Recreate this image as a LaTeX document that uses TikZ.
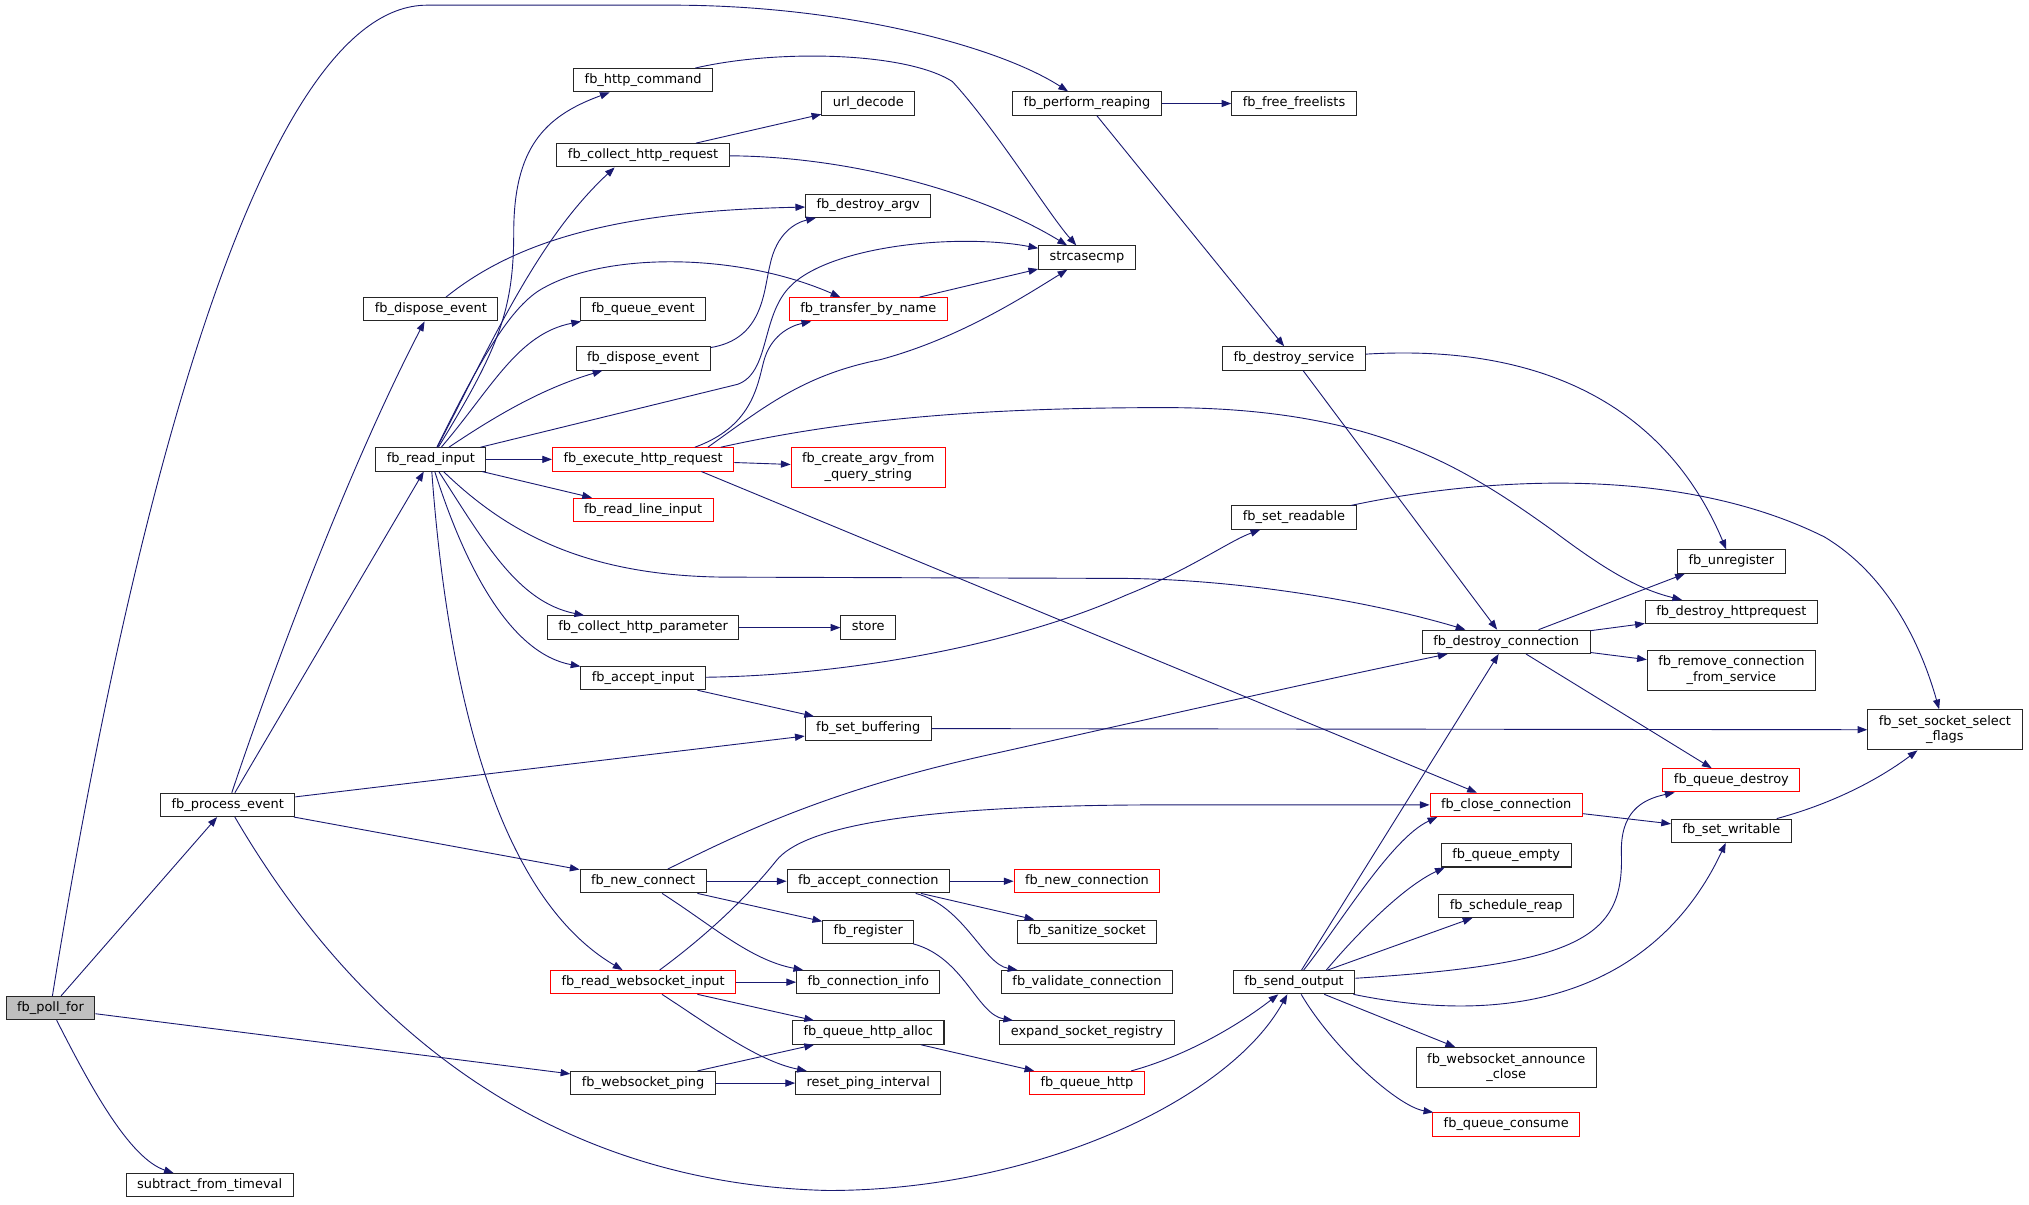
\documentclass[tikz,border=0pt]{standalone}
\usepackage{fontspec}
\setmainfont{DejaVu Sans}
\usepackage{tikz}
\usetikzlibrary{positioning, arrows.meta}

\definecolor{llamada}{HTML}{191970}
\definecolor{raizgris}{HTML}{BFBFBF}

\tikzset{
  fnode/.style={draw=black!85, line width=0.8pt, fill=white, text=black,
    font=\fontsize{10}{12}\selectfont, inner xsep=8.5pt, inner ysep=0pt,
    minimum height=18pt, text height=7.5pt, text depth=2.5pt},
  fnred/.style={fnode, draw=red},
  fnroot/.style={fnode, fill=raizgris},
  twolines/.style={align=center, text height={}, text depth={}, minimum height=31pt},
  call/.style={->, color=llamada, line width=0.7pt}
}

\begin{document}
\begin{tikzpicture}[>={Triangle[length=7.5pt,width=5.5pt]}, x=1pt, y=-1pt, on grid]
            \useasboundingbox (0,0) rectangle (1568,931);

            %%% NODOS (funciones) %%%
            % Raiz y primer nivel
            \node[fnroot] (poll)   at (39,779)  {fb\_poll\_for};
            \node[fnode]  (procev) at (176,622) {fb\_process\_event};
            \node[fnode]  (subtv)  at (162,916) {subtract\_from\_timeval};
            \node[fnode]  (readin) at (333,355) {fb\_read\_input};
            \node[fnode]  (dispev) [above=116pt of readin] {fb\_dispose\_event};

            % Columna de fb_read_input
            \node[fnred] (execreq)   [right=164pt of readin]  {fb\_execute\_http\_request};
            \node[fnode] (dispev2)   [above=78pt of execreq]  {fb\_dispose\_event};
            \node[fnode] (queueev)   [above=38pt of dispev2]  {fb\_queue\_event};
            \node[fnode] (collreq)   [above=119pt of queueev] {fb\_collect\_http\_request};
            \node[fnode] (httpcmd)   [above=58pt of collreq]  {fb\_http\_command};
            \node[fnred] (readline)  [below=39pt of execreq]  {fb\_read\_line\_input};
            \node[fnode] (collparam) [below=91pt of readline] {fb\_collect\_http\_parameter};
            \node[fnode] (acceptin)  [below=39pt of collparam] {fb\_accept\_input};
            \node[fnode] (newconn)   [below=157pt of acceptin] {fb\_new\_connect};
            \node[fnred] (wsread)    [below=78pt of newconn]  {fb\_read\_websocket\_input};
            \node[fnode] (wsping)    [below=78pt of wsread]   {fb\_websocket\_ping};

            % Segunda columna
            \node[fnred] (transname)  [right=174pt of queueev]   {fb\_transfer\_by\_name};
            \node[fnode] (destargv)   [above=80pt of transname]  {fb\_destroy\_argv};
            \node[fnode] (urldec)     [above=79pt of destargv]   {url\_decode};
            \node[fnred,twolines] (createargv) [below=122pt of transname] {fb\_create\_argv\_from\\\_query\_string};
            \node[fnode] (store)      [right=174pt of collparam] {store};
            \node[fnode] (setbuf)     [below=78pt of store]      {fb\_set\_buffering};
            \node[fnode] (acceptconn) [right=174pt of newconn]   {fb\_accept\_connection};
            \node[fnode] (register)   [below=39pt of acceptconn] {fb\_register};
            \node[fnode] (conninfo)   [below=39pt of register]   {fb\_connection\_info};
            \node[fnode] (qalloc)     [below=39pt of conninfo]   {fb\_queue\_http\_alloc};
            \node[fnode] (resetping)  [below=39pt of qalloc]     {reset\_ping\_interval};

            % Tercera columna
            \node[fnode] (reaping)       [right=169pt of urldec]        {fb\_perform\_reaping};
            \node[fnode] (strcmp)        [below=119pt of reaping]       {strcasecmp};
            \node[fnred] (newconnection) [right=169pt of acceptconn]    {fb\_new\_connection};
            \node[fnode] (sanitize)      [below=39pt of newconnection]  {fb\_sanitize\_socket};
            \node[fnode] (validate)      [below=39pt of sanitize]       {fb\_validate\_connection};
            \node[fnode] (expandreg)     [below=39pt of validate]       {expand\_socket\_registry};
            \node[fnred] (queuehttp)     [below=39pt of expandreg]      {fb\_queue\_http};

            % Cuarta columna
            \node[fnode] (freelists)   [right=160pt of reaping]     {fb\_free\_freelists};
            \node[fnode] (destservice) [below=197pt of freelists]   {fb\_destroy\_service};
            \node[fnode] (setread)     [below=123pt of destservice] {fb\_set\_readable};
            \node[fnode] (sendout)     [right=160pt of validate]    {fb\_send\_output};

            % Quinta columna
            \node[fnode] (schedreap) at (1164,700)                 {fb\_schedule\_reap};
            \node[fnode] (qempty)    [above=39pt of schedreap]     {fb\_queue\_empty};
            \node[fnred] (closeconn) [above=39pt of qempty]        {fb\_close\_connection};
            \node[fnode] (destconn)  [above=126pt of closeconn]    {fb\_destroy\_connection};
            \node[fnode,twolines] (announce) [below=125pt of schedreap] {fb\_websocket\_announce\\\_close};
            \node[fnred] (qconsume)  [below=44pt of announce]      {fb\_queue\_consume};

            % Sexta columna
            \node[fnode] (unreg)       at (1338,434)                {fb\_unregister};
            \node[fnode] (desthttpreq) [below=39pt of unreg]        {fb\_destroy\_httprequest};
            \node[fnode,twolines] (removeconn) [below=45pt of desthttpreq] {fb\_remove\_connection\\\_from\_service};
            \node[fnred] (qdestroy)    [below=85pt of removeconn]   {fb\_queue\_destroy};
            \node[fnode] (setwrite)    [below=39pt of qdestroy]     {fb\_set\_writable};
            \node[fnode,twolines] (selflags) at (1503,564) {fb\_set\_socket\_select\\\_flags};

            %%% LLAMADAS %%%
            % Desde fb_poll_for
            \draw[call] (poll) .. controls (100,400) and (200,4) .. (330,4) -- (520,4)
                        .. controls (650,4) and (770,35) .. (reaping);
            \path[call] (poll) edge (procev)
                               edge (wsping);
            \draw[call] (poll) .. controls (70,840) and (100,895) .. (subtv);

            % Desde fb_process_event
            \draw[call] (procev) .. controls (210,520) and (270,360) .. (dispev);
            \path[call] (procev) edge (readin)
                                 edge (setbuf)
                                 edge (newconn);
            \draw[call] (procev) .. controls (280,800) and (430,915) .. (640,920)
                        .. controls (800,920) and (950,850) .. (sendout);

            % Desde fb_read_input
            \draw[call] (readin) .. controls (385,270) and (397,240) .. (397,180)
                        .. controls (397,115) and (420,90) .. (httpcmd);
            \draw[call] (readin) .. controls (380,265) and (415,185) .. ([xshift=-22pt]collreq.south);
            \draw[call] (readin) .. controls (370,280) and (395,235) .. (421,222)
                        .. controls (470,195) and (570,195) .. (transname);
            \draw[call] (readin) .. controls (380,300) and (400,258) .. (queueev);
            \draw[call] (readin) .. controls (385,320) and (420,300) .. (dispev2);
            \draw[call] (readin) -- (570,297) .. controls (595,288) and (588,245) .. (610,222)
                        .. controls (640,190) and (740,180) .. (strcmp);
            \path[call] (readin) edge (execreq)
                                 edge (readline);
            \draw[call] (readin) .. controls (390,410) and (450,445) .. (560,446) -- (870,447)
                        .. controls (960,448) and (1060,465) .. (destconn);
            \draw[call] (readin) .. controls (375,420) and (400,465) .. (collparam);
            \draw[call] (readin) .. controls (360,440) and (395,505) .. (acceptin);
            \draw[call] (readin) .. controls (345,520) and (380,690) .. (wsread);

            % Segundo nivel
            \draw[call] (dispev) .. controls (400,185) and (480,163) .. (destargv);
            \path[call] (collreq) edge (urldec);
            \draw[call] (collreq) .. controls (660,121) and (760,150) .. (strcmp);
            \draw[call] (httpcmd) .. controls (600,38) and (700,40) .. (736,63)
                        .. controls (770,100) and (810,165) .. (strcmp);
            \draw[call] (dispev2) .. controls (590,262) and (590,225) .. (595,205)
                        .. controls (600,180) and (615,172) .. (destargv);
            \draw[call] ([xshift=40pt]execreq.north) .. controls (580,330) and (585,300) .. (590,280)
                        .. controls (595,260) and (610,252) .. (transname);
            \draw[call] ([xshift=50pt]execreq.north) .. controls (590,315) and (620,290) .. (680,278)
                        .. controls (740,262) and (790,230) .. (strcmp);
            \path[call] (execreq) edge (createargv);
            \draw[call] ([xshift=60pt]execreq.north) .. controls (650,325) and (750,315) .. (900,315)
                        .. controls (1060,315) and (1130,360) .. (1200,410)
                        .. controls (1240,440) and (1265,455) .. (desthttpreq);
            \draw[call] ([xshift=45pt]execreq.south) -- (closeconn);
            \path[call] (collparam) edge (store);
            \draw[call] (acceptin) .. controls (650,522) and (780,500) .. (870,460)
                        .. controls (920,440) and (950,418) .. (setread);
            \path[call] (acceptin) edge (setbuf);
            \draw[call] (newconn) .. controls (570,645) and (640,610) .. (770,582)
                        .. controls (900,553) and (1000,530) .. (destconn);
            \path[call] (newconn) edge (acceptconn)
                                  edge (register);
            \draw[call] (newconn) .. controls (550,715) and (580,742) .. (conninfo);
            \draw[call] (wsread) .. controls (550,720) and (580,690) .. (600,665)
                        .. controls (620,640) and (700,622) .. (900,622) -- (closeconn);
            \path[call] (wsread) edge (conninfo)
                                 edge (qalloc);
            \draw[call] (wsread) .. controls (545,790) and (585,820) .. (resetping);
            \path[call] (wsping) edge (qalloc)
                                 edge (resetping);

            % Tercer nivel
            \path[call] (acceptconn) edge (newconnection)
                                     edge (sanitize);
            \draw[call] (acceptconn) .. controls (745,700) and (760,745) .. (validate);
            \draw[call] (register) .. controls (745,740) and (755,784) .. (expandreg);
            \path[call] (qalloc) edge (queuehttp);
            \draw[call] (queuehttp) .. controls (920,815) and (960,790) .. (sendout);
            \path[call] (reaping) edge (freelists)
                                  edge (destservice);
            \path[call] (transname) edge (strcmp);

            % Cuarto nivel
            \draw[call] (destservice) .. controls (1200,265) and (1290,320) .. (unreg);
            \path[call] (destservice) edge (destconn);
            \draw[call] (setread) .. controls (1150,368) and (1300,360) .. (1410,415)
                        .. controls (1460,445) and (1485,500) .. (selflags);
            \path[call] (setbuf) edge (selflags);
            \path[call] ([xshift=25pt]destconn.north) edge ([xshift=-36pt]unreg.south);
            \path[call] (destconn) edge (desthttpreq)
                                   edge (removeconn)
                                   edge (qdestroy);
            \path[call] (closeconn) edge (setwrite);
            \draw[call] (setwrite) .. controls (1420,620) and (1455,600) .. (selflags);

            % Desde fb_send_output
            \path[call] (sendout) edge (destconn)
                                  edge (schedreap)
                                  edge (announce);
            \draw[call] (sendout) .. controls (1035,715) and (1075,648) .. ([xshift=6pt]closeconn.south west);
            \draw[call] ([xshift=25pt]sendout.north) .. controls (1050,720) and (1085,685) .. ([xshift=3pt]qempty.south west);
            \draw[call] (sendout) .. controls (1220,745) and (1255,725) .. (1253,660)
                        .. controls (1252,628) and (1268,618) .. (qdestroy);
            \draw[call] (sendout) .. controls (1200,800) and (1290,745) .. (setwrite);
            \draw[call] (sendout) .. controls (1030,810) and (1080,855) .. (qconsume);
\end{tikzpicture}
\end{document}
